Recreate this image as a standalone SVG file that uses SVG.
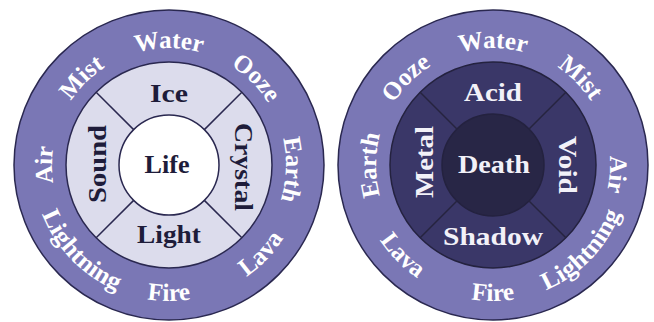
<svg xmlns="http://www.w3.org/2000/svg" xmlns:xlink="http://www.w3.org/1999/xlink" width="654" height="322" viewBox="0 0 654 322">
  <style>
    .ring { fill: #7a77b5; stroke: #2a2850; stroke-width: 1.5; }
    .midL { fill: #dcdcec; stroke: #2a2850; stroke-width: 1.5; }
    .inL { fill: #ffffff; stroke: #2a2850; stroke-width: 1.5; }
    .midR { fill: #3a3768; stroke: #24223f; stroke-width: 1.5; }
    .inR { fill: #282646; stroke: #24223f; stroke-width: 1.5; }
    .divL { stroke: #2a2850; stroke-width: 1.5; fill: none; }
    .divR { stroke: #26243f; stroke-width: 1.5; fill: none; }
    .outer { font-family: "Liberation Serif", "Times New Roman", serif; font-weight: bold; font-size: 25px; fill: #ffffff; text-anchor: middle; }
    .innerL { font-family: "Liberation Serif", "Times New Roman", serif; font-weight: bold; font-size: 25px; fill: #1e1c3a; text-anchor: middle; }
    .innerR { font-family: "Liberation Serif", "Times New Roman", serif; font-weight: bold; font-size: 25px; fill: #f2f1f8; text-anchor: middle; }
  </style>
  <defs>
    <path id="cwL" d="M169,282 A117,117 0 1,1 169,48 A117,117 0 1,1 169,282"/>
    <path id="ccwL" d="M169,29 A136,136 0 1,0 169,301 A136,136 0 1,0 169,29"/>
    <path id="cwR" d="M493,282 A117,117 0 1,1 493,48 A117,117 0 1,1 493,282"/>
    <path id="ccwR" d="M493,29 A136,136 0 1,0 493,301 A136,136 0 1,0 493,29"/>
  </defs>
  <rect width="654" height="322" fill="#ffffff"/>

  <!-- Left wheel (Life) -->
  <g id="wheel-life">
    <circle class="ring" cx="169" cy="165" r="155"/>
    <circle class="midL" cx="169" cy="165" r="103"/>
    <circle class="inL" cx="169" cy="165" r="50"/>
  </g>
  <!-- Right wheel (Death) -->
  <g id="wheel-death">
    <circle class="ring" cx="493" cy="165" r="155"/>
    <circle class="midR" cx="493" cy="165" r="103"/>
    <circle class="inR" cx="493" cy="165" r="51"/>
  </g>

  <g id="connectors">
    <line class="divL" x1="204.36" y1="129.64" x2="241.83" y2="92.17"/>
    <line class="divL" x1="204.36" y1="200.36" x2="241.83" y2="237.83"/>
    <line class="divL" x1="133.64" y1="200.36" x2="96.17" y2="237.83"/>
    <line class="divL" x1="133.64" y1="129.64" x2="96.17" y2="92.17"/>
    <line class="divR" x1="529.06" y1="128.94" x2="565.83" y2="92.17"/>
    <line class="divR" x1="529.06" y1="201.06" x2="565.83" y2="237.83"/>
    <line class="divR" x1="456.94" y1="201.06" x2="420.17" y2="237.83"/>
    <line class="divR" x1="456.94" y1="128.94" x2="420.17" y2="92.17"/>
  </g>

  <!-- Left wheel labels -->
  <g id="L-water"><text class="outer"><textPath xlink:href="#cwL" href="#cwL" startOffset="50%">Water</textPath></text></g>
  <g id="L-ooze"><text class="outer"><textPath xlink:href="#cwL" href="#cwL" startOffset="62.5%">Ooze</textPath></text></g>
  <g id="L-earth"><text class="outer"><textPath xlink:href="#cwL" href="#cwL" startOffset="75.6%">Earth</textPath></text></g>
  <g id="L-air"><text class="outer"><textPath xlink:href="#cwL" href="#cwL" startOffset="25%">Air</textPath></text></g>
  <g id="L-mist"><text class="outer"><textPath xlink:href="#cwL" href="#cwL" startOffset="37.5%">Mist</textPath></text></g>
  <g id="L-lava"><text class="outer"><textPath xlink:href="#ccwL" href="#ccwL" startOffset="62.8%">Lava</textPath></text></g>
  <g id="L-fire"><text class="outer"><textPath xlink:href="#ccwL" href="#ccwL" startOffset="50%">Fire</textPath></text></g>
  <g id="L-lightning"><text class="outer"><textPath xlink:href="#ccwL" href="#ccwL" startOffset="37.3%" textLength="110" lengthAdjust="spacingAndGlyphs">Lightning</textPath></text></g>

  <g id="L-ice"><text class="innerL" x="169" y="102" textLength="38" lengthAdjust="spacingAndGlyphs">Ice</text></g>
  <g id="L-light"><text class="innerL" x="169" y="243" textLength="64" lengthAdjust="spacingAndGlyphs">Light</text></g>
  <g id="L-life"><text class="innerL" x="167" y="173" textLength="45" lengthAdjust="spacingAndGlyphs">Life</text></g>
  <g id="L-crystal"><text class="innerL" transform="translate(235,167) rotate(90)" x="0" y="0" textLength="88" lengthAdjust="spacingAndGlyphs">Crystal</text></g>
  <g id="L-sound"><text class="innerL" transform="translate(106,164) rotate(-90)" x="0" y="0" textLength="78" lengthAdjust="spacingAndGlyphs">Sound</text></g>

  <!-- Right wheel labels -->
  <g id="R-water"><text class="outer"><textPath xlink:href="#cwR" href="#cwR" startOffset="50%">Water</textPath></text></g>
  <g id="R-mist"><text class="outer"><textPath xlink:href="#cwR" href="#cwR" startOffset="62.5%">Mist</textPath></text></g>
  <g id="R-air"><text class="outer"><textPath xlink:href="#cwR" href="#cwR" startOffset="76.2%">Air</textPath></text></g>
  <g id="R-earth"><text class="outer"><textPath xlink:href="#cwR" href="#cwR" startOffset="25%">Earth</textPath></text></g>
  <g id="R-ooze"><text class="outer"><textPath xlink:href="#cwR" href="#cwR" startOffset="37.5%">Ooze</textPath></text></g>
  <g id="R-lightning"><text class="outer"><textPath xlink:href="#ccwR" href="#ccwR" startOffset="62.8%" textLength="110" lengthAdjust="spacingAndGlyphs">Lightning</textPath></text></g>
  <g id="R-fire"><text class="outer"><textPath xlink:href="#ccwR" href="#ccwR" startOffset="50%">Fire</textPath></text></g>
  <g id="R-lava"><text class="outer"><textPath xlink:href="#ccwR" href="#ccwR" startOffset="37.5%">Lava</textPath></text></g>

  <g id="R-acid"><text class="innerR" x="493" y="101" textLength="58" lengthAdjust="spacingAndGlyphs">Acid</text></g>
  <g id="R-shadow"><text class="innerR" x="493" y="245" textLength="100" lengthAdjust="spacingAndGlyphs">Shadow</text></g>
  <g id="R-death"><text class="innerR" x="494" y="173" textLength="72" lengthAdjust="spacingAndGlyphs">Death</text></g>
  <g id="R-metal"><text class="innerR" transform="translate(433,162) rotate(-90)" x="0" y="0" textLength="72" lengthAdjust="spacingAndGlyphs">Metal</text></g>
  <g id="R-void"><text class="innerR" transform="translate(559,165) rotate(90)" x="0" y="0" textLength="58" lengthAdjust="spacingAndGlyphs">Void</text></g>
</svg>
